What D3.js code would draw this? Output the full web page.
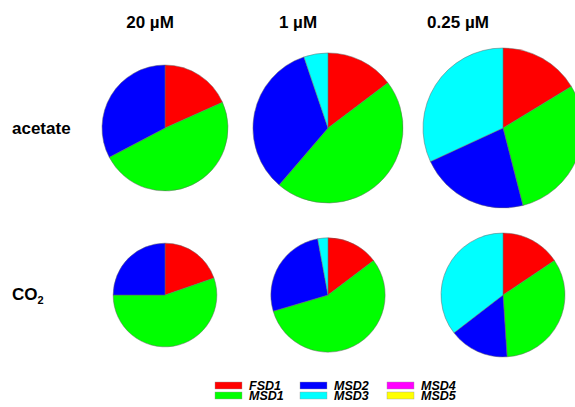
<!DOCTYPE html>
<meta charset="utf-8">
<style type="text/css">
body { margin: 0; background: #fff; }
.hed { font-family: "Liberation Sans", Arial, sans-serif; font-weight: bold; font-size: 17px; }
.row { font-family: "Liberation Sans", Arial, sans-serif; font-weight: bold; font-size: 17px; }
.leg { font-family: "Liberation Sans", Arial, sans-serif; font-weight: bold; font-style: italic; font-size: 12.5px; }
.slice { stroke: #666; stroke-width: 0.5px; }
</style>
<body>
<div class="g-chart"></div>
<script src="https://cdnjs.cloudflare.com/ajax/libs/d3/7.8.5/d3.min.js"></script>
<script type="text/javascript">

// columns and rows
var concentrations = ["20 µM", "1 µM", "0.25 µM"];
var substrates = ["acetate", "CO2"];
var genes = ["FSD1", "MSD1", "MSD2", "MSD3", "MSD4", "MSD5"];
var geneColors = ["#ff0000", "#00ff00", "#0000ff", "#00ffff", "#ff00ff", "#ffff00"];

// percent of transcripts per gene (FSD1, MSD1..MSD5), one row per concentration
var acetateShares = [
  [18.3, 49.0, 32.7, 0, 0, 0],
  [14.7, 46.6, 33.5, 5.2, 0, 0],
  [16.3, 29.7, 22.1, 31.9, 0, 0]
];
var co2Shares = [
  [19.7, 55.3, 25.0, 0, 0, 0],
  [14.7, 55.8, 26.7, 2.9, 0, 0],
  [15.6, 33.4, 15.6, 35.5, 0, 0]
];

// relative total (pie area) per concentration
var acetateTotal = [0.62, 0.88, 1.0];
var co2Total = [0.42, 0.51, 0.60];

var width = 575, height = 407;

var svg = d3.select(".g-chart").append("svg")
  .attr("width", width)
  .attr("height", height);

//layout scales
var xPie = d3.scaleOrdinal().domain(concentrations).range([165, 328, 503]);
var xHed = d3.scaleOrdinal().domain(concentrations).range([150, 298, 458]);
var yRow = d3.scaleOrdinal().domain(substrates).range([128, 295]);
var rScale = d3.scaleSqrt().domain([0, 1]).range([0, 80]);
var color = d3.scaleOrdinal().domain(genes).range(geneColors);

var pie = d3.pie().sort(null).value(function(d) { return d.v; });
var arc = d3.arc().innerRadius(0);

//build pie list
var pies = [];
substrates.forEach(function(s) {
  var shares = s == "acetate" ? acetateShares : co2Shares;
  var totals = s == "acetate" ? acetateTotal : co2Total;
  concentrations.forEach(function(c, i) {
    pies.push({
      sub: s, conc: c, total: totals[i],
      slices: genes.map(function(g, j) { return {gene: g, v: shares[i][j]}; })
    });
  });
});

var g = svg.selectAll("g.pie")
  .data(pies)
  .enter().append("g")
  .attr("class", "pie")
  .attr("transform", function(d) { return "translate(" + xPie(d.conc) + "," + yRow(d.sub) + ")"; });

g.selectAll("path")
  .data(function(d) {
    var r = rScale(d.total);
    return pie(d.slices).filter(function(a) { return a.data.v > 0; })
      .map(function(a) { a.r = r; return a; });
  })
  .enter().append("path")
  .attr("class", "slice")
  .attr("d", function(d) { return arc.outerRadius(d.r)(d); })
  .attr("fill", function(d) { return color(d.data.gene); });

// column headers
svg.selectAll("text.hed")
  .data(concentrations)
  .enter().append("text")
  .attr("class", "hed")
  .attr("x", function(d) { return xHed(d); })
  .attr("y", 28)
  .attr("text-anchor", "middle")
  .text(function(d) { return d; });

// row labels
svg.append("text")
  .attr("class", "row")
  .attr("x", 12)
  .attr("y", yRow("acetate") + 6)
  .text("acetate");

var co2 = svg.append("text")
  .attr("class", "row")
  .attr("x", 12)
  .attr("y", yRow("CO2") + 5);
co2.append("tspan").text("CO");
co2.append("tspan").attr("dy", 4).style("font-size", "11px").text("2");

// legend
var legX = d3.scaleOrdinal().domain([0, 1, 2]).range([215, 300, 387]);
var legY = d3.scaleOrdinal().domain([0, 1]).range([382, 392]);

var leg = svg.selectAll("g.leg")
  .data(genes)
  .enter().append("g")
  .attr("transform", function(d, i) {
    return "translate(" + legX(Math.floor(i / 2)) + "," + legY(i % 2) + ")";
  });

leg.append("rect")
  .attr("width", 27)
  .attr("height", 7)
  .attr("fill", function(d) { return color(d); })
  .attr("stroke", "#999")
  .attr("stroke-width", 0.4);

leg.append("text")
  .attr("class", "leg")
  .attr("x", 34)
  .attr("y", 8)
  .text(function(d) { return d; });

</script>
</body>
